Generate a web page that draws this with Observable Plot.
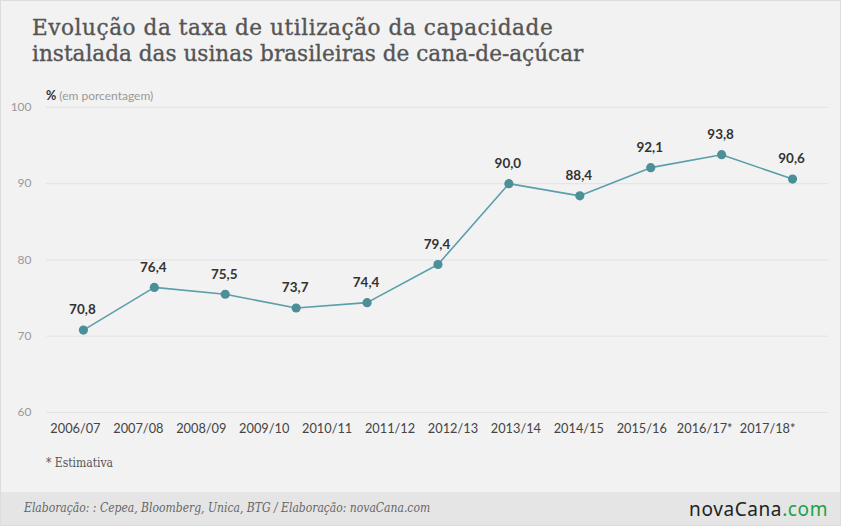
<!DOCTYPE html>
<html>
<head>
<meta charset="utf-8">
<script src="https://cdn.jsdelivr.net/npm/d3@7"></script>
<script src="https://cdn.jsdelivr.net/npm/@observablehq/plot@0.6"></script>
<style>
  html, body { margin: 0; padding: 0; background: #f2f2f2; }
  #wrap { position: relative; width: 839px; height: 524px; background: #f2f2f2; border: 1px solid #dcdcdc; overflow: hidden; }
  #title { position: absolute; left: 31px; top: 14px; margin: 0; font-family: "DejaVu Serif", serif; font-weight: normal; font-size: 21.6px; line-height: 26px; color: #555; -webkit-text-stroke: 0.35px #555; }
  #title .l1 { letter-spacing: 0.55px; }
  #unit { position: absolute; left: 45px; top: 87px; font-family: Lato, sans-serif; font-size: 12px; color: #999; }
  #unit b { color: #333; font-size: 12.5px; }
  #note { position: absolute; left: 45px; top: 455px; font-family: "DejaVu Serif Condensed", "DejaVu Serif", serif; font-size: 12px; color: #555; }
  #footer { position: absolute; left: 0; top: 491px; width: 839px; height: 33px; background: #e5e5e5; }
  #src { position: absolute; left: 23px; top: 9px; font-family: "DejaVu Serif Condensed", "DejaVu Serif", serif; font-style: italic; font-size: 12px; color: #666; }
  #logo { position: absolute; right: 12px; top: 4px; font-family: "Noto Sans", sans-serif; font-size: 19px; letter-spacing: 0.6px; color: #222; }
  #logo span { color: #22a045; }
  .layer { position: absolute; left: -1px; top: -1px; }
</style>
</head>
<body>
<div id="wrap">
  <div id="axes" class="layer"></div>
  <div id="series" class="layer"></div>
  <h1 id="title"><span class="l1">Evolução da taxa de utilização da capacidade</span><br><span class="l2">instalada das usinas brasileiras de cana-de-açúcar</span></h1>
  <div id="unit"><b>%</b> (em porcentagem)</div>
  <div id="note">* Estimativa</div>
  <div id="footer">
    <div id="src">Elaboração: : Cepea, Bloomberg, Unica, BTG / Elaboração: novaCana.com</div>
    <div id="logo">novaCana<span>.com</span></div>
  </div>
</div>
<script>
// Tick labels of the category axis (12 labels, as in the original)
const safras = ["2006/07","2007/08","2008/09","2009/10","2010/11","2011/12","2012/13","2013/14","2014/15","2015/16","2016/17*","2017/18*"];
// Series values (11 points, as drawn in the original)
const taxa = [70.8, 76.4, 75.5, 73.7, 74.4, 79.4, 90.0, 88.4, 92.1, 93.8, 90.6];
const yTicks = [60, 70, 80, 90, 100];

const W = 841, H = 492;
const common = {
  width: W, height: H,
  marginTop: 107, marginBottom: 79.5, marginLeft: 46, marginRight: 12,
  y: {domain: [60, 100]},
  style: {background: "none", fontFamily: "Lato, sans-serif", overflow: "visible"}
};

const axes = Plot.plot({
  ...common,
  x: {type: "point", domain: safras, range: [71.7, 771.7], padding: 0},
  marks: [
    Plot.ruleY(yTicks, {stroke: "#e3e3e3", strokeWidth: 1}),
    Plot.axisY(yTicks, {tickSize: 0, tickPadding: 15, fill: "#999", fontSize: 12, label: null}),
    Plot.axisX({tickSize: 0, tickPadding: 11, fill: "#444", fontSize: 12.8, label: null})
  ]
});
document.getElementById("axes").append(axes);

const pts = taxa.map((v, i) => ({i, v}));
const series = Plot.plot({
  ...common,
  x: {type: "point", domain: d3.range(taxa.length), range: [81.7, 794.7], padding: 0, axis: null},
  y: {domain: [60, 100], axis: null},
  marks: [
    Plot.line(pts, {x: "i", y: "v", stroke: "#5a9fa9", strokeWidth: 1.6}),
    Plot.dot(pts, {x: "i", y: "v", r: 4.6, fill: "#4b8f99", stroke: "none"}),
    Plot.text(pts, {x: "i", y: "v", text: d => d.v.toFixed(1).replace(".", ","), dy: -20, dx: -1, fill: "#333", fontSize: 13.5, fontWeight: "bold"})
  ]
});
document.getElementById("series").append(series);
</script>
</body>
</html>
